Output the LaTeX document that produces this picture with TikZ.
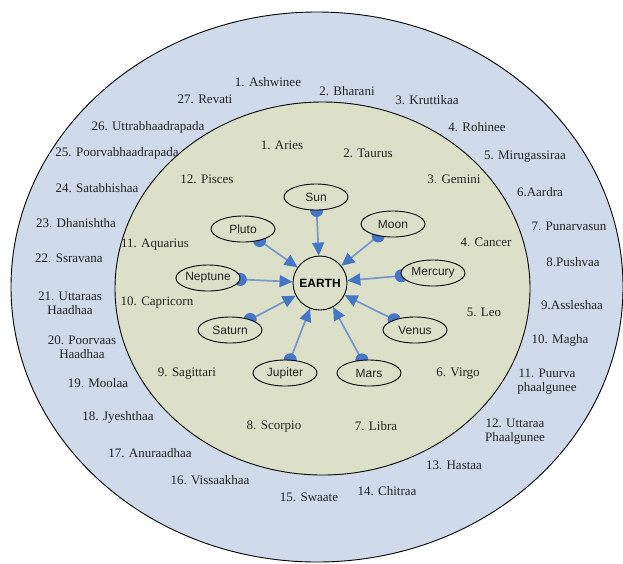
\documentclass[tikz,border=0pt]{standalone}
\usepackage{fontspec}
\setmainfont{Liberation Serif}
\setsansfont{Liberation Sans}
\usetikzlibrary{shapes.geometric,arrows.meta}
\definecolor{outerc}{RGB}{207,218,235}
\definecolor{innerc}{RGB}{221,224,200}
\definecolor{linec}{RGB}{118,152,204}
\definecolor{tipc}{RGB}{70,118,198}
\definecolor{txtc}{RGB}{35,35,35}
\pgfdeclarelayer{back}
\pgfdeclarelayer{mid}
\pgfsetlayers{back,mid,main}
\begin{document}
\begin{tikzpicture}[x=1pt,y=-1pt,
  ring/.style={ellipse, draw=black, line width=0.9pt, inner sep=0pt},
  nak/.style={font=\fontsize{13}{14}\selectfont, text=txtc, align=center, inner sep=0pt},
  rasi/.style={font=\fontsize{13}{14}\selectfont, text=txtc, align=center, inner sep=0pt},
  planet/.style={ellipse, draw=black, line width=0.9pt, fill=innerc, minimum width=64pt, minimum height=26pt, inner sep=0pt, text=txtc, font=\sffamily\fontsize{12}{14}\selectfont},
  conn/.style={draw=linec, line width=1.7pt},
  dot/.style={fill=tipc}]
\useasboundingbox (0,0) rectangle (623,563);
\begin{pgfonlayer}{back}
\node[ring, fill=outerc, minimum width=612pt, minimum height=550pt] (outer) at (317,287) {};
\node[ring, fill=innerc, minimum width=415pt, minimum height=373pt] (inner) at (322.5,288.5) {};
\end{pgfonlayer}
% nakshatras
\node[nak] (n1) at (268,82) {1. Ashwinee};
\node[nak] (n2) at (347,91) {2. Bharani};
\node[nak] (n3) at (427,100) {3. Kruttikaa};
\node[nak] (n4) at (477,127) {4. Rohinee};
\node[nak] (n5) at (525,157) {5. Mirugassiraa};
\node[nak] (n6) at (540,192) {6.Aardra};
\node[nak] (n7) at (569,226) {7. Punarvasun};
\node[nak] (n8) at (573,262) {8.Pushvaa};
\node[nak] (n9) at (572,305) {9.Assleshaa};
\node[nak] (n10) at (560,340) {10. Magha};
\node[nak] (n11) at (547,382) {11. Puurva\\phaalgunee};
\node[nak] (n12) at (515,432) {12. Uttaraa\\Phaalgunee};
\node[nak] (n13) at (454,465) {13. Hastaa};
\node[nak] (n14) at (387,491) {14. Chitraa};
\node[nak] (n15) at (309,497) {15. Swaate};
\node[nak] (n16) at (210,480) {16. Vissaakhaa};
\node[nak] (n17) at (150,453) {17. Anuraadhaa};
\node[nak] (n18) at (118,417) {18. Jyeshthaa};
\node[nak] (n19) at (98,383) {19. Moolaa};
\node[nak] (n20) at (82,347) {20. Poorvaas\\Haadhaa};
\node[nak] (n21) at (70,303) {21. Uttaraas\\Haadhaa};
\node[nak] (n22) at (69,258) {22. Ssravana};
\node[nak] (n23) at (76,223) {23. Dhanishtha};
\node[nak] (n24) at (97,188) {24. Satabhishaa};
\node[nak] (n25) at (117,153) {25. Poorvabhaadrapada};
\node[nak] (n26) at (148,127) {26. Uttrabhaadrapada};
\node[nak] (n27) at (205,99) {27. Revati};
% rasis
\node[rasi] (r1) at (282,145) {1. Aries};
\node[rasi] (r2) at (368,153) {2. Taurus};
\node[rasi] (r3) at (454,179) {3. Gemini};
\node[rasi] (r4) at (486,242) {4. Cancer};
\node[rasi] (r5) at (484,312) {5. Leo};
\node[rasi] (r6) at (458,374) {6. Virgo};
\node[rasi] (r7) at (376,426) {7. Libra};
\node[rasi] (r8) at (274,427) {8. Scorpio};
\node[rasi] (r9) at (187,374) {9. Sagittari};
\node[rasi] (r10) at (157,303) {10. Capricorn};
\node[rasi] (r11) at (155,245) {11. Aquarius};
\node[rasi] (r12) at (207,179) {12. Pisces};
% planets
\node[circle, draw=black, line width=0.9pt, fill=innerc, minimum size=54pt, inner sep=0pt, text=black, font=\sffamily\bfseries\fontsize{12}{14}\selectfont] (earth) at (320,283) {EARTH};
\node[planet] (sun) at (316,197) {Sun};
\node[planet] (moon) at (393,224) {Moon};
\node[planet] (pluto) at (243,229) {Pluto};
\node[planet] (neptune) at (208,278) {Neptune};
\node[planet] (mercury) at (433,273) {Mercury};
\node[planet] (saturn) at (230,330) {Saturn};
\node[planet] (venus) at (415,330) {Venus};
\node[planet] (jupiter) at (285,373) {Jupiter};
\node[planet] (mars) at (369,373) {Mars};
\begin{pgfonlayer}{mid}
\foreach \p in {sun,moon,pluto,neptune,mercury,saturn,venus,jupiter,mars}{
  \draw[conn, -{Triangle[length=13pt,width=12pt,color=tipc]}] (\p) -- (earth) coordinate[pos=0] (s-\p);
  \fill[dot] (s-\p) circle (6.5pt);
}
\end{pgfonlayer}
\end{tikzpicture}
\end{document}
